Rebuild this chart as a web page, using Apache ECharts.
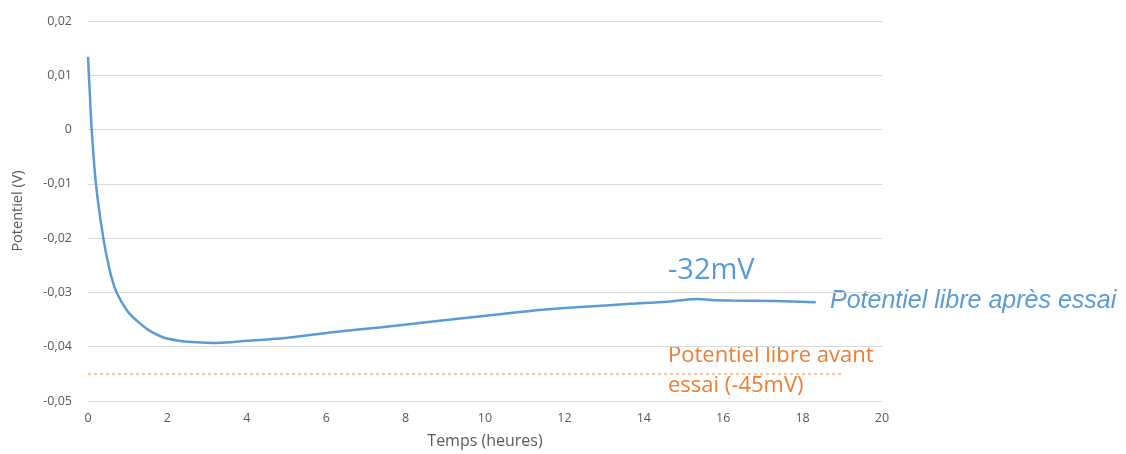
<!DOCTYPE html>
<html>
<head>
<meta charset="utf-8">
<script src="https://cdn.jsdelivr.net/npm/echarts@6/dist/echarts.min.js"></script>
<style>
    html, body { margin: 0; padding: 0; background: #fff; }
    #main { width: 1126px; height: 454px; }
</style>
</head>
<body>
<div id="main"></div>
<script>
// temps en heures, potentiel en V
var hours = [0.0, 0.05, 0.093, 0.2, 0.386, 0.55, 0.72, 1.0, 1.23, 1.5, 1.9, 2.3, 2.74, 3.2, 3.58, 4.0, 4.84, 6.1, 7.4, 8.63, 9.9, 11.15, 12.4, 13.67, 14.6, 15.1, 15.35, 15.7, 16.2, 17.3, 18.33];
var potentiel = [0.0134, 0.006, 0, -0.01, -0.02, -0.026, -0.03, -0.0335, -0.0352, -0.0368, -0.0383, -0.0389, -0.0392, -0.0393, -0.0392, -0.0389, -0.0385, -0.0374, -0.0364, -0.0354, -0.0344, -0.0334, -0.0327, -0.0321, -0.0317, -0.0313, -0.0312, -0.0314, -0.0315, -0.0316, -0.0318];
var avantEssai = -0.045;
var avantFin = 19;

var seriesData = [];
for (var i = 0; i < hours.length; i++) {
    seriesData.push([hours[i], potentiel[i]]);
}

var axisFont = 'Open Sans, sans-serif';
var chart = echarts.init(document.getElementById('main'));
var option = {
    animation: false,
    grid: { left: 88, right: 244, top: 21, bottom: 49 },
    xAxis: {
        type: 'value',
        min: 0,
        max: 20,
        interval: 2,
        name: 'Temps (heures)',
        nameLocation: 'middle',
        nameGap: 32,
        nameTextStyle: { color: '#595959', fontSize: 16, fontFamily: axisFont },
        axisLine: { show: false },
        axisTick: { show: false },
        splitLine: { show: false },
        axisLabel: { color: '#595959', fontSize: 12.5, fontFamily: axisFont, margin: 11 }
    },
    yAxis: {
        type: 'value',
        min: -0.05,
        max: 0.02,
        interval: 0.01,
        name: 'Potentiel (V)',
        nameLocation: 'middle',
        nameGap: 63,
        nameTextStyle: { color: '#595959', fontSize: 14.5, fontFamily: axisFont },
        axisLine: { show: false },
        axisTick: { show: false },
        splitLine: { lineStyle: { color: '#d9d9d9', width: 1 } },
        axisLabel: {
            color: '#595959', fontSize: 12.5, fontFamily: axisFont, margin: 16,
            formatter: function (v) {
                var r = Math.round(v * 100) / 100;
                return String(r).replace('.', ',');
            }
        }
    },
    series: [{
        type: 'line',
        data: seriesData,
        smooth: 0.3,
        symbol: 'none',
        lineStyle: { color: '#5b9bd5', width: 2.5 },
        markLine: {
            silent: true,
            symbol: 'none',
            label: { show: false },
            lineStyle: { color: '#f4b183', width: 1.5, type: [3, 3] },
            data: [[{ coord: [0, avantEssai] }, { coord: [avantFin, avantEssai] }]]
        }
    }],
    graphic: [
        {
            type: 'text', left: 668, top: 256,
            style: { text: '-32mV', fill: '#5b9bd5', fontSize: 29, fontFamily: axisFont }
        },
        {
            type: 'text', left: 830, top: 289,
            style: { text: 'Potentiel libre après essai', fill: '#5b9bd5', fontSize: 25, fontStyle: 'italic', fontFamily: 'Liberation Sans, Arial, sans-serif' }
        },
        {
            type: 'text', left: 668, top: 345,
            style: { text: 'Potentiel libre avant', fill: '#ed7d31', fontSize: 22, fontFamily: axisFont }
        },
        {
            type: 'text', left: 668, top: 375,
            style: { text: 'essai (-45mV)', fill: '#ed7d31', fontSize: 22, fontFamily: axisFont }
        }
    ]
};
chart.setOption(option);
</script>
</body>
</html>
